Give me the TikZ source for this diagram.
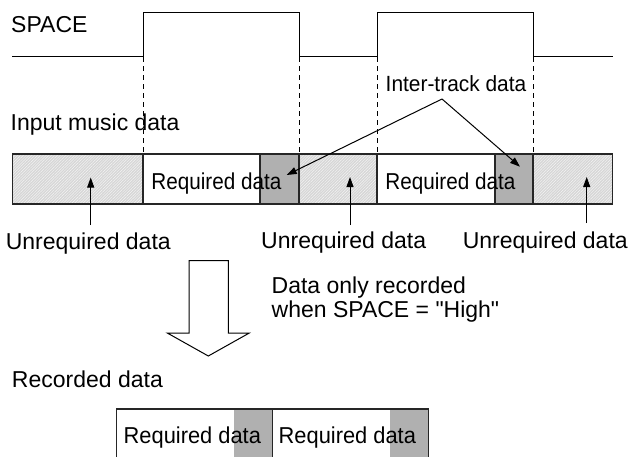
\documentclass[tikz,border=0pt]{standalone}
\usepackage{fontspec}
\setmainfont{Liberation Sans}
\newfontfamily\narrowA[FakeStretch=0.9]{Liberation Sans}
\newfontfamily\narrowB[FakeStretch=0.95]{Liberation Sans}
\usetikzlibrary{arrows.meta,patterns.meta}
\definecolor{hatchbase}{gray}{0.84}
\definecolor{trackgray}{gray}{0.69}
\tikzset{
  lbl/.style={inner sep=0pt, anchor=base west, font=\fontsize{23}{24}\selectfont},
  reqlbl/.style={inner sep=0pt, anchor=base west, font=\narrowA\fontsize{23}{24}\selectfont},
  reqlblb/.style={inner sep=0pt, anchor=base west, font=\narrowB\fontsize{23}{24}\selectfont},
  itlbl/.style={inner sep=0pt, anchor=base west, font=\narrowB\fontsize{22}{24}\selectfont},
  wave/.style={line width=1pt, line join=miter},
  guide/.style={line width=0.9pt, dash pattern=on 5pt off 4pt},
  unreq/.style={fill=hatchbase},
  unreqlines/.style={pattern={Lines[angle=45,distance=2pt,line width=0.45pt]}, pattern color=white!96!black},
  intertrack/.style={fill=trackgray},
  outline/.style={draw=black!85, line width=1.2pt},
  pointer/.style={line width=1pt, -{Triangle[length=10pt,width=7pt]}},
  blockarrow/.style={draw, line width=1pt, fill=white, line join=miter}
}
\begin{document}
\begin{tikzpicture}[x=1pt,y=-1pt]
\clip (0,0) rectangle (632,456);
\fill[white] (0,0) rectangle (632,456);

% SPACE signal
\node[lbl] (space) at (11,32.7) {SPACE};
\draw[wave] (12,56) -- (143,56) -- (143,12) -- (299,12) -- (299,56)
  -- (377,56) -- (377,12) -- (533,12) -- (533,56) -- (613,56);

% edge guides down to the data stream
\foreach \gx in {143,299,377,533}
  \draw[guide] (\gx,57) -- (\gx,154);

% input music data stream
\node[lbl] (input) at (10.5,130) {Input music data};
\foreach \a/\b in {12.3/143,299/377,533/612.3} {
  \path[unreq] (\a,154) rectangle (\b,204);
  \path[unreqlines] (\a,154) rectangle (\b,204);
}
\path[intertrack] (260,154) rectangle (299,204);
\path[intertrack] (495,154) rectangle (533,204);
\draw[outline] (12.3,154) rectangle (612.3,204);
\foreach \gx in {143,260,299,377,495,533}
  \draw[outline] (\gx,154) -- (\gx,204);

\node[reqlbl] (req1) at (151.2,189.3) {Required data};
\node[reqlbl] (req2) at (385.2,189.3) {Required data};

% inter-track pointers
\node[itlbl] (inter) at (385.5,91) {Inter-track data};
\coordinate (apex) at (442,99);
\coordinate (tip1) at (286.7,175);
\coordinate (tip2) at (520,166.7);
\draw[pointer] (apex) -- (tip1);
\draw[pointer] (apex) -- (tip2);

% unrequired labels
\node[lbl] (un1) at (5.6,249) {Unrequired data};
\node[lbl] (un2) at (261,248.5) {Unrequired data};
\node[lbl] (un3) at (462.6,248.5) {Unrequired data};
\coordinate (u1a) at (90.7,225);  \coordinate (u1b) at (90.7,177.5);
\coordinate (u2a) at (350,225);   \coordinate (u2b) at (350,177);
\coordinate (u3a) at (586.7,223); \coordinate (u3b) at (586.7,177);
\draw[pointer] (u1a) -- (u1b);
\draw[pointer] (u2a) -- (u2b);
\draw[pointer] (u3a) -- (u3b);

% recording step
\draw[blockarrow] (189,260.7) -- (228.3,260.7) -- (228.3,333) -- (249.3,333)
  -- (208.3,356) -- (167.3,333) -- (189,333) -- cycle;
\node[lbl] (cond1) at (271.5,293.3) {Data only recorded};
\node[lbl] (cond2) at (271.5,317.7) {when SPACE = \textquotedbl High\textquotedbl};

% recorded data stream
\node[lbl] (rec) at (11.8,387.3) {Recorded data};
\path[intertrack] (234.3,409) rectangle (272.7,470);
\path[intertrack] (390,409) rectangle (428.3,470);
\draw[outline] (116.3,409) rectangle (272.7,470);
\draw[outline] (272.7,409) rectangle (428.3,470);
\node[reqlblb] (rec1) at (123.5,443.3) {Required data};
\node[reqlblb] (rec2) at (278.5,443.3) {Required data};
\end{tikzpicture}
\end{document}
